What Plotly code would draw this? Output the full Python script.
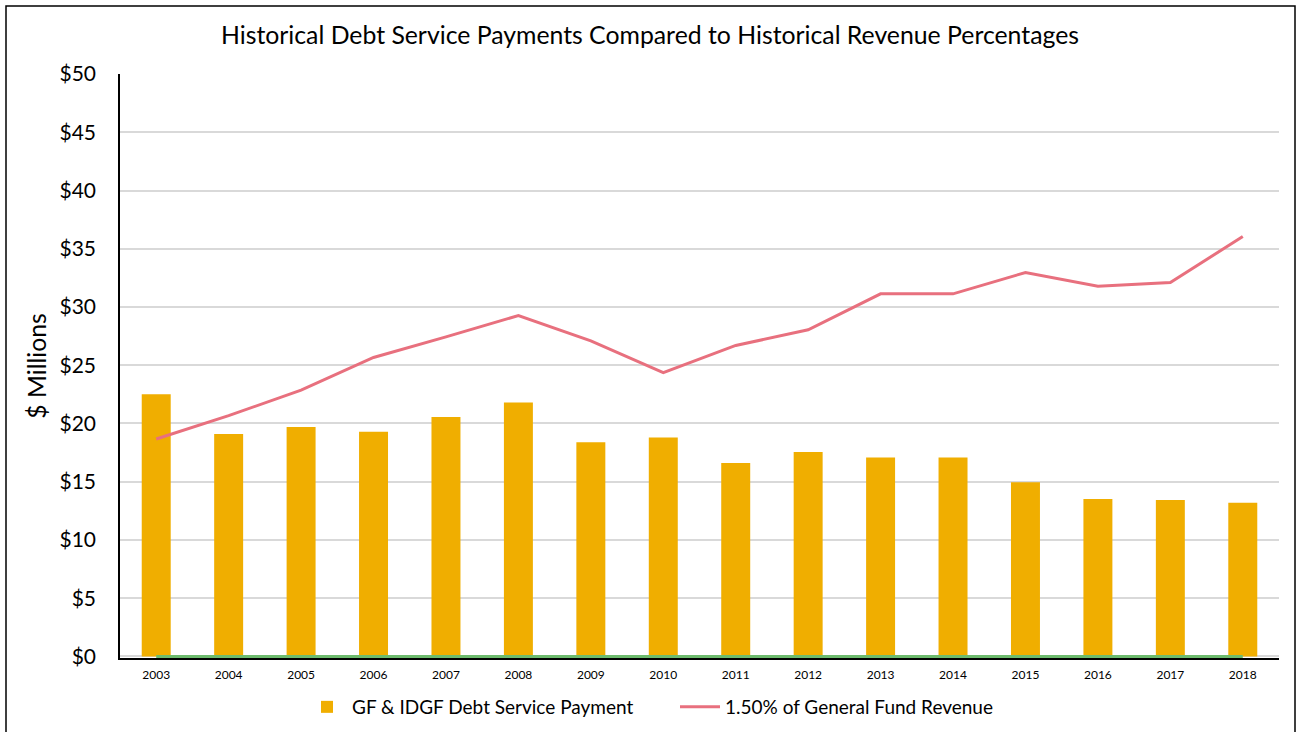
import plotly.graph_objects as go

years = [str(y) for y in range(2003, 2019)]
debt_service = [22.5, 19.1, 19.7, 19.3, 20.55, 21.8, 18.4, 18.8, 16.6, 17.55, 17.07, 17.07, 14.95, 13.52, 13.44, 13.2]
revenue_pct = [18.67, 20.67, 22.87, 25.67, 27.44, 29.27, 27.1, 24.36, 26.7, 28.04, 31.13, 31.13, 32.96, 31.79, 32.1, 36.05]
zero_line = [0] * len(years)
y_ticks = list(range(0, 55, 5))
y_tick_labels = [f"${v}" for v in y_ticks]

FONT = "Lato, sans-serif"

fig = go.Figure()
fig.add_trace(go.Bar(
    x=years, y=debt_service, name="GF & IDGF Debt Service Payment",
    marker=dict(color="#F0AE00", line=dict(width=0)),
))
fig.add_trace(go.Scatter(
    x=years, y=revenue_pct, name="1.50% of General Fund Revenue",
    mode="lines", line=dict(color="#E8707E", width=3),
))
fig.add_trace(go.Scatter(
    x=years, y=zero_line, name="zero", showlegend=False,
    mode="lines", line=dict(color="#6DBB6D", width=3),
))

Y_MIN = -0.13
W, H = 1296, 732
L, R, T = 120, 17, 74
px_per_unit = 582 / 50
ph = px_per_unit * (50 - Y_MIN)
B = H - T - ph
pw = W - L - R
bottom = T + ph

fig.update_layout(
    width=W, height=H,
    margin=dict(l=L, r=R, t=T, b=B, autoexpand=False),
    paper_bgcolor="white", plot_bgcolor="white",
    font=dict(family=FONT, color="black"),
    title=dict(text="Historical Debt Service Payments Compared to Historical Revenue Percentages",
               x=650 / W, xanchor="center", yref="container", y=1 - 35 / H, yanchor="middle",
               font=dict(size=24.8, family=FONT, color="black")),
    bargap=0.6,
    showlegend=True,
    legend=dict(orientation="h", xref="container", x=302 / W, xanchor="left",
                yref="container", y=1 - 707 / H, yanchor="middle",
                font=dict(size=19, family=FONT), traceorder="normal",
                itemwidth=40, entrywidth=318, entrywidthmode="pixels"),
    xaxis=dict(type="category", range=[-0.5, 15.5], showgrid=False,
               showline=True, linecolor="black", linewidth=1.5, layer="below traces",
               ticks="", tickfont=dict(size=12, family=FONT), ticklabelstandoff=5,
               automargin=False),
    yaxis=dict(range=[Y_MIN, 50], tickvals=y_ticks, ticktext=y_tick_labels,
               showgrid=True, gridcolor="#D9D9D9", gridwidth=1.5,
               showline=True, linecolor="black", linewidth=1.5, zeroline=False,
               layer="below traces", automargin=False,
               ticks="", tickfont=dict(size=21, family=FONT), ticklabelstandoff=18,
               title=dict(text="$ Millions", font=dict(size=24.7, family=FONT), standoff=6)),
    shapes=[dict(type="rect", xref="paper", yref="paper",
                 x0=(6 - L) / pw, x1=(1295 - L) / pw,
                 y0=-(740 - bottom) / ph, y1=(bottom - 6) / ph,
                 line=dict(color="black", width=1.5), fillcolor="rgba(0,0,0,0)",
                 layer="below")],
)

fig.write_html("out.html")
